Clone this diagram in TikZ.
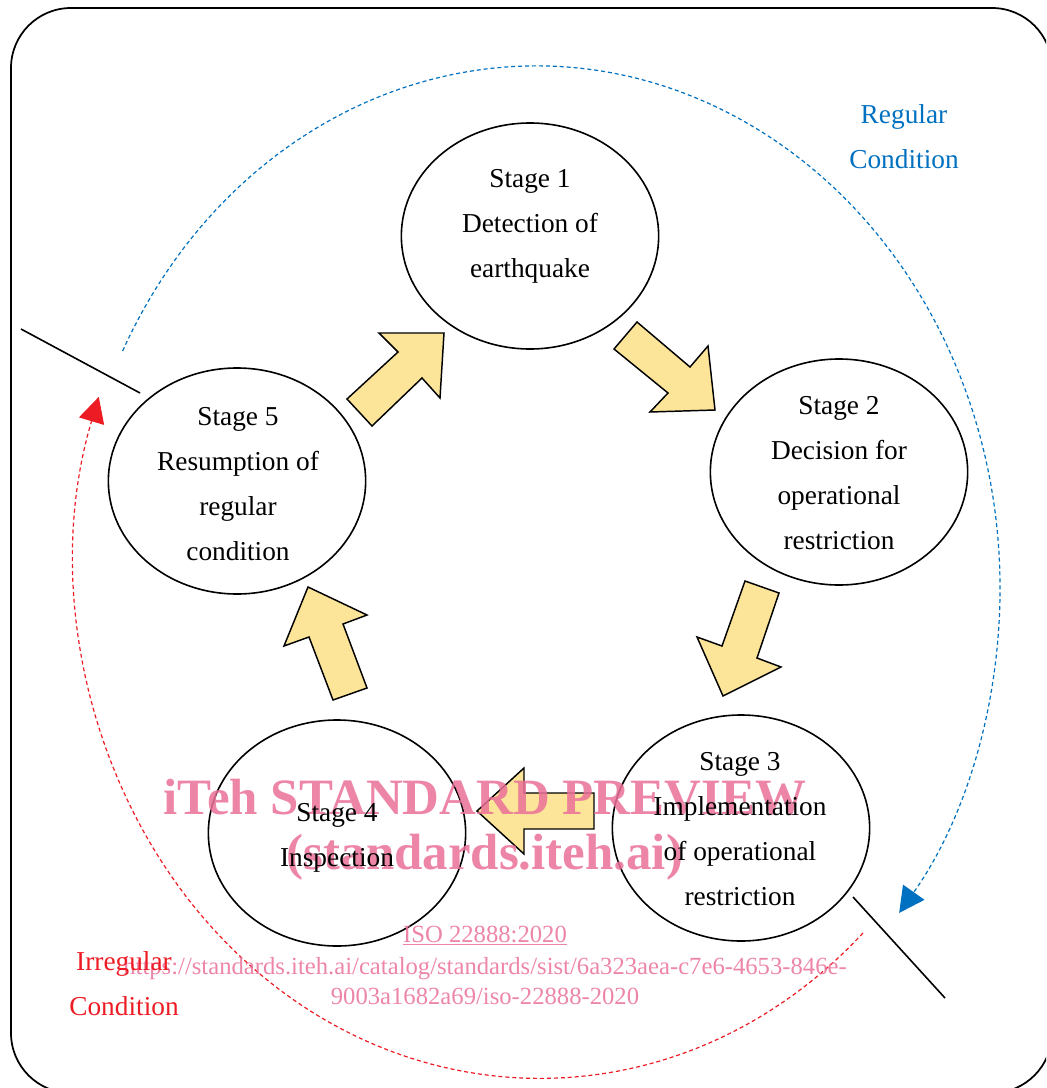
\documentclass[tikz,border=0pt]{standalone}
\usepackage{fontspec}
\setmainfont{Liberation Serif}
\usetikzlibrary{arrows.meta,shapes.geometric}
\definecolor{regblue}{RGB}{0,112,192}
\definecolor{irregred}{RGB}{237,28,36}
\definecolor{arrowfill}{RGB}{252,229,153}
\definecolor{wmpink}{RGB}{234,112,152}

\begin{document}
\begin{tikzpicture}[x = 0.75pt, y = -0.75pt,
  stage/.style = {ellipse, draw, line width = 1.2pt, minimum width = 193pt, minimum height = 169.5pt, inner sep = 0pt},
  stagetext/.style = {align = center, inner sep = 0pt, font = \fontsize{20.5}{33.75}\selectfont},
  flowarrow/.style = {fill = arrowfill, draw = black, line width = 1.1pt},
  cutline/.style = {line width = 1.2pt},
  regpath/.style = {regblue, line width = 0.9pt, dash pattern = on 3pt off 2.2pt, -{Triangle[length = 19pt, width = 19.5pt]}},
  irregpath/.style = {irregred, line width = 0.9pt, dash pattern = on 3pt off 2.2pt, -{Triangle[length = 19pt, width = 19.5pt]}},
  wmbig/.style = {wmpink, text opacity = 0.85, font = \fontsize{38.2}{45}\selectfont\bfseries, anchor = base},
  wmsmall/.style = {wmpink, text opacity = 0.85, font = \fontsize{18.5}{22}\selectfont, anchor = base}]
\useasboundingbox (0,0) rectangle (1046,1088);
\clip (0,0) rectangle (1046,1088);
\draw[line width = 1.3pt, rounded corners = 45pt] (11,8) rectangle (1052,1093);

\coordinate (regstart) at (122.6,351);
\coordinate (irregstart) at (863,933);
\draw[regpath] (regstart) arc[start angle = 207, end angle = 398.5, x radius = 464, y radius = 522];
\draw[irregpath] (irregstart) arc[start angle = 46, end angle = 198.4, x radius = 465, y radius = 518];

\coordinate (cutl1) at (21,329);
\coordinate (cutl2) at (140,393);
\coordinate (cutr1) at (853,897);
\coordinate (cutr2) at (945,998);
\draw[cutline] (cutl1) -- (cutl2);
\draw[cutline] (cutr1) -- (cutr2);

\node[stage] (s1) at (530,236) {};
\node[stage] (s2) at (839,472) {};
\node[stage] (s3) at (741,828) {};
\node[stage] (s4) at (337,833) {};
\node[stage] (s5) at (237,481) {};

\draw[flowarrow] (637,322) -- (614,349) -- (668,393) -- (650,412) -- (715,410) -- (708,346) -- (690,367) -- cycle;
\draw[flowarrow] (745,581) -- (779,593) -- (757,658) -- (781,667) -- (723,696) -- (697,637) -- (722,646) -- cycle;
\draw[flowarrow] (594,793) -- (524,793) -- (524,768) -- (477,811) -- (524,854) -- (524,829) -- (594,829) -- cycle;
\draw[flowarrow] (308,587) -- (367,615) -- (343,624) -- (367,688) -- (333,700) -- (309,637) -- (284,646) -- cycle;
\draw[flowarrow] (444,333) -- (379,333) -- (398,352) -- (347,399) -- (372,426) -- (422,378) -- (440,398) -- cycle;

\node[wmbig] (wm1) at (485,814) {iTeh STANDARD PREVIEW};
\node[wmbig] (wm2) at (485,869) {(standards.iteh.ai)};
\node[wmsmall] (wm3) at (485,942) {\underline{ISO 22888:2020}};
\node[wmsmall] (wm4) at (485,974) {https://standards.iteh.ai/catalog/standards/sist/6a323aea-c7e6-4653-846e-};
\node[wmsmall] (wm5) at (485,1004) {9003a1682a69/iso-22888-2020};

\node[stagetext] (s1t) at (530,226) {Stage 1\\Detection of\\earthquake};
\node[stagetext] (s2t) at (839,473) {Stage 2\\Decision for\\operational\\restriction};
\node[stagetext] (s3t) at (740,829) {Stage 3\\Implementation\\of operational\\restriction};
\node[stagetext] (s4t) at (337,838) {Stage 4\\Inspection};
\node[stagetext] (s5t) at (238,484) {Stage 5\\Resumption of\\regular\\condition};

\node[stagetext, regblue] (reglabel) at (904,137) {Regular\\Condition};
\node[stagetext, irregred] (irreglabel) at (124,984) {Irregular\\Condition};
\end{tikzpicture}
\end{document}
